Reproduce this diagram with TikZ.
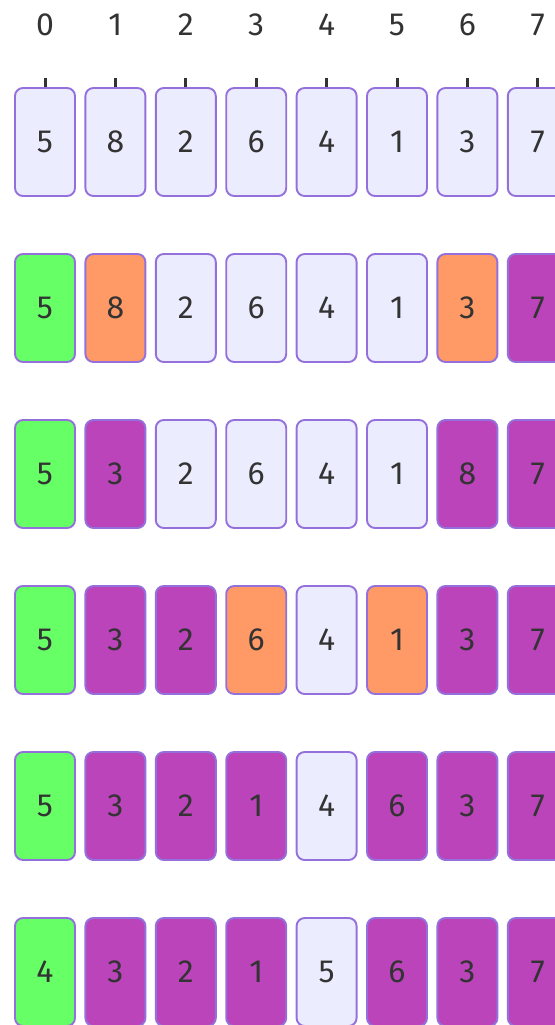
\documentclass[tikz,border=0pt]{standalone}
\usepackage{fontspec}
\setmainfont{Fira Sans}
\usepackage{xcolor}
\definecolor{cellfill}{HTML}{ECECFF}
\definecolor{cellline}{HTML}{9370DB}
\definecolor{pivotfill}{HTML}{66FF66}
\definecolor{swapfill}{HTML}{FF9966}
\definecolor{donefill}{HTML}{BB44BB}
\definecolor{txt}{HTML}{333333}

\begin{document}
\begin{tikzpicture}[
    x=1pt, y=-1pt,
    cell/.style={draw=cellline, line width=1.9pt, fill=cellfill, rounded corners=8pt,
        minimum width=60pt, minimum height=108pt, inner sep=0pt, text=txt,
        font=\fontsize{32}{36}\selectfont},
    pivot/.style={cell, fill=pivotfill},
    swap/.style={cell, fill=swapfill},
    done/.style={cell, fill=donefill},
    idx/.style={text=txt, font=\fontsize{32}{36}\selectfont, inner sep=0pt},
    tick/.style={draw=txt, line width=3pt}
]
    \useasboundingbox (0,0) rectangle (554,1025);

    % index labels and ticks
    \foreach \i in {0,...,7} {
        \node[idx] (idx-\i) at (45+70.4*\i, 25) {\i};
        \coordinate (tk-\i) at (45+70.4*\i, 78);
    }

    % rows: value/style pairs
    \foreach \row/\cells in {
        0/{5/cell,8/cell,2/cell,6/cell,4/cell,1/cell,3/cell,7/cell},
        1/{5/pivot,8/swap,2/cell,6/cell,4/cell,1/cell,3/swap,7/done},
        2/{5/pivot,3/done,2/cell,6/cell,4/cell,1/cell,8/done,7/done},
        3/{5/pivot,3/done,2/done,6/swap,4/cell,1/swap,3/done,7/done},
        4/{5/pivot,3/done,2/done,1/done,4/cell,6/done,3/done,7/done},
        5/{4/pivot,3/done,2/done,1/done,5/cell,6/done,3/done,7/done}} {
        \foreach \val/\sty [count=\col from 0] in \cells {
            \node[\sty] (c-\row-\col) at (45+70.4*\col, 142+166*\row) {\val};
        }
    }

    % ticks down to the first row
    \foreach \i in {0,...,7} {
        \draw[tick] (tk-\i) -- (c-0-\i.north);
    }
\end{tikzpicture}
\end{document}
